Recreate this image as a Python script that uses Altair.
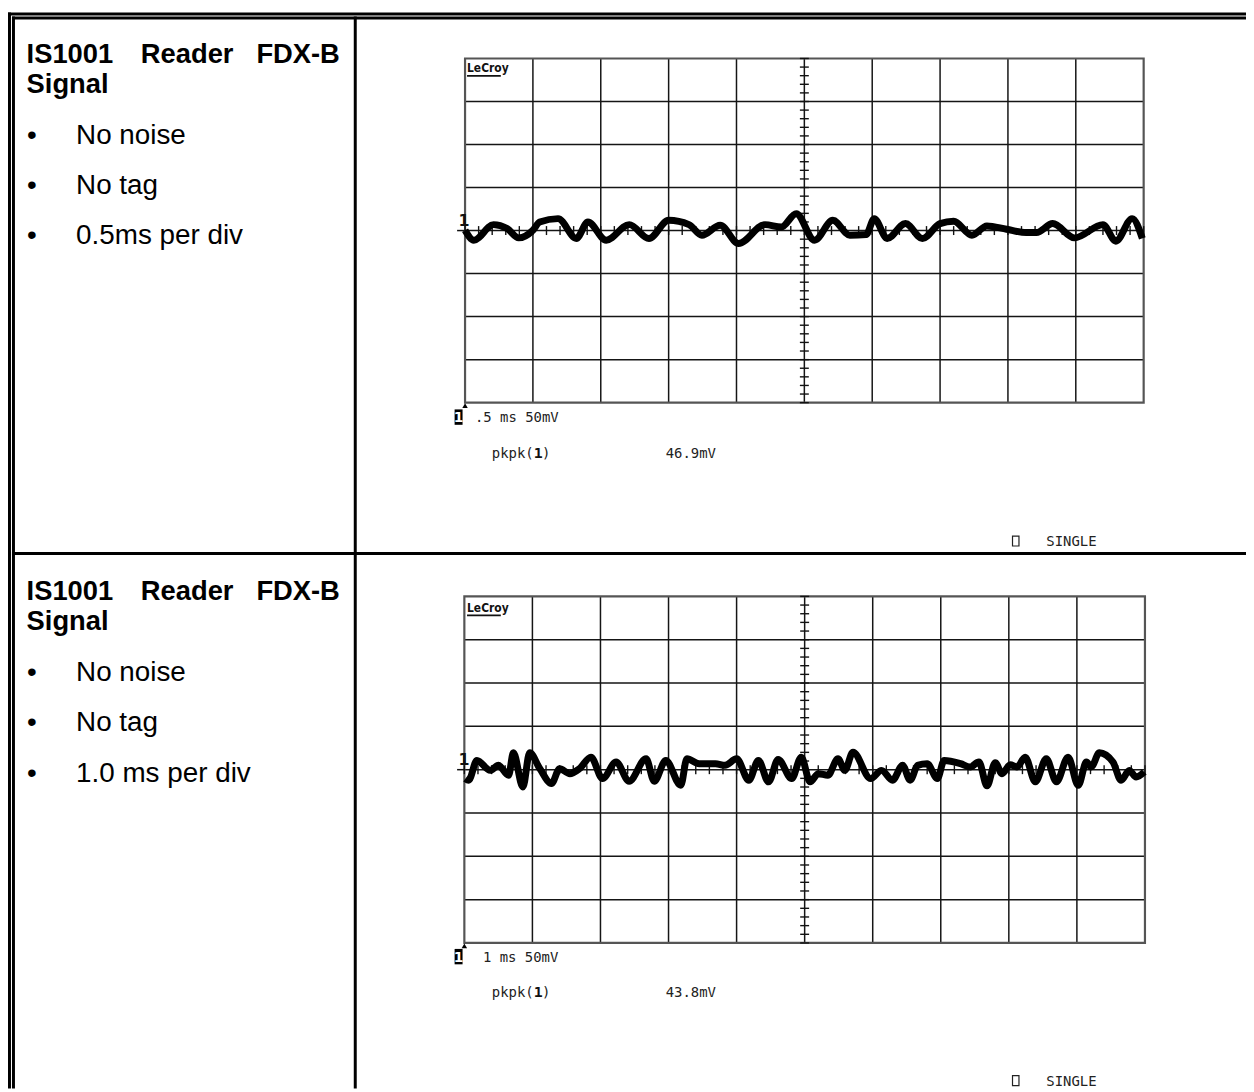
import altair as alt
import pandas as pd

# ---------------- data ----------------
title_words = ["IS1001", "Reader", "FDX-B"]
subtitle = "Signal"
bullets_top = ["No noise", "No tag", "0.5ms per div"]
bullets_bottom = ["No noise", "No tag", "1.0 ms per div"]
timebase_labels = [".5 ms 50mV", "1 ms 50mV"]
pkpk_values = ["46.9mV", "43.8mV"]
brand = "LeCroy"
mode_label = "SINGLE"

# oscilloscope grid: 10 time divisions, 8 vertical divisions of 50 mV
x_divisions = list(range(0, 11))
y_levels_mv = [-200, -150, -100, -50, 0, 50, 100, 150, 200]

# trace 1 (0.5 ms/div): position in divisions, level in mV
trace1_div = [0.00, 0.13, 0.42, 0.62, 0.79, 1.00, 1.10, 1.37, 1.64, 1.81,
              2.08, 2.42, 2.71, 3.00, 3.30, 3.49, 3.76, 4.03, 4.42, 4.66,
              4.88, 5.15, 5.42, 5.67, 5.91, 6.03, 6.22, 6.49, 6.74, 7.00,
              7.20, 7.47, 7.69, 7.98, 8.27, 8.42, 8.66, 8.98, 9.40, 9.59,
              9.83, 9.98]
trace1_mv = [0.4, -11.2, 6.9, 2.3, -8.5, 0.4, 10.0, 13.9, -9.2, 10.0,
             -11.2, 6.9, -9.2, 11.9, 6.9, -5.4, 6.2, -15.0, 6.9, 4.2,
             19.6, -11.2, 11.9, -5.4, -4.6, 13.9, -9.2, 8.1, -9.2, 8.1,
             10.8, -5.4, 5.4, 1.5, -2.3, -2.3, 8.1, -8.5, 6.9, -12.3,
             13.9, -9.2]

# trace 2 (1 ms/div)
trace2_div = [0.015, 0.063, 0.185, 0.38, 0.50, 0.65, 0.72, 0.86, 0.96, 1.11,
              1.28, 1.40, 1.55, 1.69, 1.86, 2.03, 2.23, 2.42, 2.67, 2.79,
              2.96, 3.18, 3.27, 3.45, 3.69, 3.83, 4.00, 4.18, 4.32, 4.47,
              4.61, 4.81, 4.95, 5.08, 5.20, 5.34, 5.49, 5.59, 5.71, 5.97,
              6.13, 6.29, 6.44, 6.55, 6.66, 6.80, 6.95, 7.05, 7.29, 7.43,
              7.56, 7.68, 7.80, 7.90, 8.02, 8.12, 8.24, 8.39, 8.55, 8.70,
              8.87, 9.02, 9.14, 9.21, 9.33, 9.53, 9.65, 9.77, 9.87, 9.99]
trace2_mv = [-10.3, -12.2, 10.7, -0.8, 5.0, -6.5, 19.5, -19.9, 19.5, 1.1,
             -16.0, 1.1, -4.6, 1.1, 14.5, -10.3, 8.8, -13.4, 12.6, -13.4,
             10.7, -18.0, 12.6, 6.9, 6.9, 5.0, 12.6, -12.2, 10.7, -14.1,
             11.8, -10.3, 14.5, -14.1, -4.6, -6.5, 12.6, -0.8, 20.2, -10.3,
             -0.8, -12.2, 5.0, -12.2, 5.0, 6.9, -10.3, 10.7, 6.9, 3.1,
             8.8, -18.7, 8.0, -4.6, 5.7, 3.1, 14.5, -14.1, 12.6, -14.1,
             14.5, -18.0, 8.8, 3.1, 19.5, 8.8, -12.2, -0.8, -8.4, -2.7]

# ---------------- layout ----------------
W, H = 1246, 1084
SANS = "Liberation Sans"
MONO = "DejaVu Sans Mono"
CW = 0.602 * 14  # mono char width at 14px


def px(field):
    return alt.X(field + ":Q", scale=None, axis=None)


def py(field):
    return alt.Y(field + ":Q", scale=None, axis=None)


def texts(rows, align="left", **mark):
    df = pd.DataFrame(rows, columns=["x", "y", "t"])
    return alt.Chart(df).mark_text(align=align, baseline="alphabetic", **mark).encode(
        x=px("x"), y=py("y"), text="t:N")


layers = []

# table borders
segments = [
    (0, 2.5, W, 2.5), (4, 6.5, W, 6.5),
    (1.5, 1, 1.5, H), (5.5, 5, 5.5, H),
    (349.5, 5, 349.5, H), (4, 545.5, W, 545.5),
]
seg_df = pd.DataFrame(segments, columns=["x", "y", "xe", "ye"])
layers.append(alt.Chart(seg_df).mark_rule(color="black", strokeWidth=3).encode(
    x=px("x"), y=py("y"), x2="xe:Q", y2="ye:Q"))

# left column texts
for dy, bullets in [(0, bullets_top), (541, bullets_bottom)]:
    title_x = [18.7, 133.7, 250]
    layers.append(texts([(title_x[i], 51.5 + dy, w) for i, w in enumerate(title_words)]
                        + [(18.7, 82 + dy, subtitle)],
                        font=SANS, fontSize=27.5, fontWeight="bold", color="black"))
    by = [133 + dy, 183.5 + dy, 234.5 + dy]
    layers.append(texts([(68.5, by[i], b) for i, b in enumerate(bullets)],
                        font=SANS, fontSize=28, color="black"))
    layers.append(texts([(19, by[i], "\u2022") for i in range(3)],
                        font=SANS, fontSize=28, color="black"))


def scope(x0, x1, ytop, ybot, tdiv, tmv, dy, tb, tbx, pk):
    xs = alt.Scale(domain=[0, 10], range=[x0, x1], nice=False, zero=False)
    ys = alt.Scale(domain=[-200, 200], range=[ybot, ytop], nice=False, zero=False)

    def X(f):
        return alt.X(f + ":Q", scale=xs, axis=None)

    def Y(f):
        return alt.Y(f + ":Q", scale=ys, axis=None)

    out = []
    vdf = pd.DataFrame({"d": x_divisions[1:-1], "lo": -200, "hi": 200})
    out.append(alt.Chart(vdf).mark_rule(color="#151515", strokeWidth=1.5).encode(
        x=X("d"), y=Y("lo"), y2="hi:Q"))
    hdf = pd.DataFrame({"v": y_levels_mv[1:-1], "lo": 0, "hi": 10})
    out.append(alt.Chart(hdf).mark_rule(color="#151515", strokeWidth=1.5).encode(
        y=Y("v"), x=X("lo"), x2="hi:Q"))
    bdf = pd.DataFrame({"a": [0], "b": [10], "c": [-200], "e": [200]})
    out.append(alt.Chart(bdf).mark_rect(fillOpacity=0, stroke="#555", strokeWidth=2.2).encode(
        x=X("a"), x2="b:Q", y=Y("c"), y2="e:Q"))
    # centre cross minor ticks
    vt = pd.DataFrame({"x": 5, "y": list(range(-200, 201, 10))})
    out.append(alt.Chart(vt).mark_tick(orient="horizontal", size=9, thickness=1.4,
                                       color="#111", opacity=1).encode(x=X("x"), y=Y("y")))
    ht = pd.DataFrame({"x": [i / 5 for i in range(0, 51)], "y": 0})
    out.append(alt.Chart(ht).mark_tick(orient="vertical", size=9, thickness=1.4,
                                       color="#111", opacity=1).encode(x=X("x"), y=Y("y")))
    # trace
    tdf = pd.DataFrame({"div": tdiv, "mv": tmv})
    out.append(alt.Chart(tdf).mark_line(color="black", strokeWidth=7, strokeJoin="round",
                                        strokeCap="butt", interpolate="monotone").encode(
        x=X("div"), y=Y("mv")))
    # annotations
    out.append(texts([(462, 61 + dy, brand)], font="DejaVu Sans Condensed, DejaVu Sans",
                     fontSize=12, fontWeight="bold", color="#111"))
    ul = pd.DataFrame({"x": [462], "y": [64.8 + dy], "xe": [496], "ye": [64.8 + dy]})
    out.append(alt.Chart(ul).mark_rule(color="#111", strokeWidth=1.6).encode(
        x=px("x"), y=py("y"), x2="xe:Q", y2="ye:Q"))
    cy = (ytop + ybot) / 2
    mk = pd.DataFrame({"x": [452], "y": [cy], "xe": [x0], "ye": [cy]})
    out.append(alt.Chart(mk).mark_rule(color="#111", strokeWidth=1.5).encode(
        x=px("x"), y=py("y"), x2="xe:Q", y2="ye:Q"))
    out.append(texts([(453.5, cy - 5, "1")], font="DejaVu Sans", fontSize=16,
                     fontWeight="bold", color="#111"))
    tri = pd.DataFrame({"x": [x0], "y": [ybot + 3]})
    out.append(alt.Chart(tri).mark_point(shape="triangle-up", filled=True, size=30,
                                         color="black", opacity=1).encode(x=px("x"), y=py("y")))
    box = pd.DataFrame({"x": [449.5], "xe": [457.5], "y": [400.5 + dy], "ye": [416 + dy]})
    out.append(alt.Chart(box).mark_rect(color="black").encode(
        x=px("x"), x2="xe:Q", y=py("y"), y2="ye:Q"))
    out.append(texts([(453.5, 413.5 + dy, "1")], align="center", font="DejaVu Sans",
                     fontSize=14, fontWeight="bold", color="white"))
    out.append(texts([(tbx, 413.5 + dy, tb), (662, 449 + dy, pk),
                      (487, 449 + dy, "pkpk("), (487 + 6 * CW, 449 + dy, ")"),
                      (1045, 538 + dy, mode_label)],
                     font=MONO, fontSize=14, color="#222"))
    out.append(texts([(487 + 5 * CW, 449 + dy, "1")], font=MONO, fontSize=15,
                     fontWeight="bold", color="#111"))
    sb = pd.DataFrame({"x": [1011], "xe": [1017.5], "y": [528 + dy], "ye": [538 + dy]})
    out.append(alt.Chart(sb).mark_rect(fillOpacity=0, stroke="#222", strokeWidth=1.2).encode(
        x=px("x"), x2="xe:Q", y=py("y"), y2="ye:Q"))
    return out


layers += scope(460, 1143, 47.3, 393.7, trace1_div, trace1_mv, 0,
                timebase_labels[0], 470, pkpk_values[0])
layers += scope(459.3, 1144.3, 588.7, 937.5, trace2_div, trace2_mv, 543,
                timebase_labels[1], 478, pkpk_values[1])

chart = alt.layer(*layers).resolve_scale(
    x="independent", y="independent"
).properties(
    width=W, height=H, autosize=alt.AutoSizeParams(type="none"), padding=0
).configure_view(stroke=None)

chart.save("out.html", embed_options={"renderer": "svg", "actions": False})
